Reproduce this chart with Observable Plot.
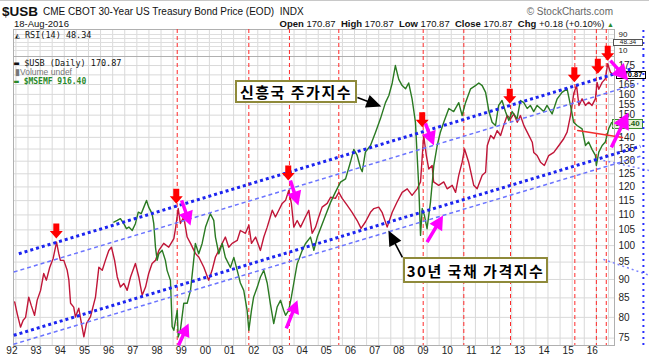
<!DOCTYPE html>
<html><head><meta charset="utf-8">
<script src="https://cdn.jsdelivr.net/npm/d3@7"></script>
<script src="https://cdn.jsdelivr.net/npm/@observablehq/plot@0.6"></script>
<style>
body{margin:0;background:#fff;}
#wrap{position:relative;width:649px;height:364px;overflow:hidden;background:#fff;font-family:"Liberation Sans",Arial,sans-serif;color:#111;}
.abs{position:absolute;white-space:nowrap;line-height:1;}
.mono{font-family:"DejaVu Sans Mono",monospace;}
.plotbox{position:absolute;left:0;top:0;}
.note{position:absolute;background:#fff;border:2px solid #8f8a3a;font-family:"Noto Sans CJK KR",sans-serif;font-weight:700;font-size:15px;letter-spacing:1.5px;line-height:1;display:flex;align-items:center;justify-content:center;color:#000;box-sizing:border-box;}
.tag{position:absolute;font-size:8px;font-weight:bold;line-height:1;padding:0 1px;box-sizing:border-box;display:flex;align-items:center;justify-content:center;overflow:hidden;}
</style></head><body><div id="wrap"></div>
<script>
// ---------- data ----------
const usbYears = [1991.95,1992.05,1992.19,1992.30,1992.40,1992.53,1992.63,1992.77,1992.88,1993.02,
1993.15,1993.26,1993.40,1993.54,1993.68,1993.77,1993.84,1993.98,1994.12,1994.19,
1994.26,1994.39,1994.46,1994.60,1994.67,1994.81,1994.92,1995.08,1995.29,1995.43,
1995.57,1995.70,1995.84,1995.95,1996.08,1996.19,1996.32,1996.46,1996.60,1996.74,
1996.94,1997.08,1997.22,1997.36,1997.49,1997.63,1997.77,1997.91,1998.11,1998.32,
1998.53,1998.60,1998.71,1998.80,1998.94,1999.08,1999.22,1999.42,1999.56,1999.77,
1999.97,2000.11,2000.25,2000.39,2000.53,2000.66,2000.80,2000.94,2001.15,2001.28,
2001.49,2001.63,2001.74,2001.91,2002.11,2002.25,2002.39,2002.60,2002.73,2002.87,
2003.01,2003.15,2003.28,2003.39,2003.49,2003.63,2003.77,2003.97,2004.11,2004.25,
2004.39,2004.52,2004.66,2004.87,2005.01,2005.21,2005.35,2005.49,2005.70,2005.90,
2006.11,2006.27,2006.45,2006.66,2006.80,2007.00,2007.14,2007.35,2007.56,2007.76,
2007.97,2008.18,2008.38,2008.59,2008.73,2008.86,2008.97,2009.07,2009.21,2009.27,
2009.48,2009.69,2009.83,2010.04,2010.18,2010.31,2010.45,2010.55,2010.72,2010.93,
2011.07,2011.28,2011.42,2011.49,2011.63,2011.76,2011.90,2012.04,2012.17,2012.31,
2012.45,2012.59,2012.73,2012.86,2013.00,2013.14,2013.35,2013.41,2013.55,2013.69,
2013.85,2014.03,2014.24,2014.45,2014.65,2014.79,2014.93,2015.07,2015.18,2015.28,
2015.41,2015.55,2015.68,2015.82,2015.96,2016.03,2016.10,2016.24,2016.37,2016.47,
2016.58,2016.63];
const usbClose = [83.9,81.0,77.6,79.3,80.0,85.2,83.1,80.5,84.4,87.0,
91.7,89.8,93.5,96.1,101.1,97.6,95.5,95.5,92.6,89.8,
83.6,82.6,80.1,82.3,79.8,75.3,78.5,80.1,85.2,93.5,
92.6,95.5,98.5,99.5,95.5,90.7,87.9,88.9,87.0,90.7,
94.6,90.7,85.7,87.9,91.7,94.6,95.5,98.5,100.7,99.5,
102.2,105.5,112.2,107.1,109.3,102.7,100.7,97.6,96.5,93.5,
89.8,92.6,96.5,98.5,100.7,102.7,99.5,100.7,101.6,104.8,
103.9,106.5,100.7,102.7,98.5,102.7,105.9,111.6,109.3,111.6,
114.0,115.1,118.7,114.0,105.9,108.1,105.9,109.3,111.6,103.9,
105.9,109.3,112.7,114.0,116.2,115.8,118.0,115.8,113.3,110.9,
108.1,105.5,107.6,110.9,112.2,112.7,110.9,105.9,110.9,114.5,
118.0,119.3,116.9,119.3,121.9,140.8,132.3,126.9,128.3,121.9,
120.6,121.9,119.3,120.6,118.0,124.4,129.6,135.0,129.6,120.6,
119.3,124.4,125.6,136.5,140.8,139.4,143.0,140.8,145.3,149.8,
148.3,150.6,146.7,149.8,145.3,142.3,137.9,133.6,132.3,129.6,
128.3,132.3,133.6,136.5,139.4,142.3,149.8,160.6,164.5,154.6,
157.8,154.6,156.2,154.6,157.8,166.1,162.6,166.1,167.9,176.0,
171.4,170.87];

const emfYears = [1996.05,1996.19,1996.32,1996.46,1996.57,1996.67,1996.81,1996.94,1997.06,1997.18,
1997.29,1997.40,1997.49,1997.63,1997.70,1997.77,1997.84,1997.91,1998.05,1998.18,
1998.25,1998.39,1998.46,1998.53,1998.67,1998.71,1998.80,1998.94,1999.08,1999.22,
1999.35,1999.42,1999.56,1999.70,1999.84,2000.04,2000.18,2000.25,2000.39,2000.53,
2000.66,2000.87,2001.01,2001.15,2001.28,2001.42,2001.56,2001.63,2001.74,2001.83,
2001.98,2002.11,2002.25,2002.39,2002.52,2002.66,2002.80,2002.94,2003.07,2003.15,
2003.28,2003.39,2003.49,2003.63,2003.84,2003.97,2004.18,2004.32,2004.46,2004.59,
2004.80,2005.01,2005.21,2005.42,2005.63,2005.83,2005.97,2006.11,2006.25,2006.32,
2006.45,2006.66,2006.87,2007.07,2007.28,2007.42,2007.56,2007.69,2007.83,2007.97,
2008.11,2008.24,2008.38,2008.52,2008.59,2008.66,2008.73,2008.80,2008.89,2009.00,
2009.14,2009.28,2009.42,2009.55,2009.69,2009.90,2010.10,2010.31,2010.45,2010.59,
2010.80,2011.00,2011.14,2011.28,2011.42,2011.56,2011.69,2011.83,2011.96,2012.10,
2012.24,2012.38,2012.52,2012.72,2012.86,2013.00,2013.14,2013.27,2013.41,2013.55,
2013.69,2013.82,2013.96,2014.17,2014.38,2014.58,2014.79,2014.93,2015.06,2015.20,
2015.41,2015.55,2015.68,2015.82,2015.96,2016.00,2016.10,2016.24,2016.37,2016.51,
2016.63];
const emfClose = [493.5,498.7,504,488.6,473.6,478.4,468.6,488.6,525.1,519.9,
541.6,564.6,541.6,519.9,488.6,422.4,388.9,405.3,413.9,388.9,
365.5,343.5,257.5,251.8,285.1,241.5,251.8,297.8,297.8,322.8,
388.9,432.2,405.3,432.2,478.4,519.9,498.7,449.5,405.3,432.2,
396.2,372.0,396.2,365.5,337.9,322.8,285.1,251.8,285.1,309.8,
329.4,350.7,365.5,337.9,297.2,262.5,291.0,303.4,285.1,276.4,
285.1,309.8,337.9,381.1,413.9,431.3,449.5,413.9,449.5,473.6,
514.4,557.8,594.4,632.6,645.5,715.6,775.6,746.7,689.6,675.1,
762.4,794.6,862.9,937.6,1037,1084,1172,1306,1198,1153,
1130,1172,1062,918,746.7,608.4,454.3,536.8,514.4,473.6,
557.8,701.7,794.6,862.9,918,1000,981.2,1037,957.4,1037,
1130,1153,1172,1153,1105,981.2,918,899.7,1019,1051,
981.2,928.1,981.2,937.6,1051,1037,1000,1019,981.2,1019,
1000,981.2,1019,966.7,1062,1105,1130,1019,918,899.7,
881.3,794.6,812,775.6,746.7,701.7,762.4,794.6,812,881.3,
916.40];

// overlay: $MSEMF is drawn on its own (half-slope) log axis, anchored so its last value sits at the 916.40 tag
const emfAnchorValue = 916.40, emfAnchorPrice = 146.6;

// tick labels (170 and 145 are hidden under the value tags in the reference)
const yearTicks = [1992,1993,1994,1995,1996,1997,1998,1999,2000,2001,2002,2003,2004,2005,2006,2007,2008,2009,2010,2011,2012,2013,2014,2015,2016];
const yearLabels = ["92","93","94","95","96","97","98","99","00","01","02","03","04","05","06","07","08","09","10","11","12","13","14","15","16"];
const priceTicks = [75,80,85,90,95,100,105,110,115,120,125,130,135,140,150,155,160,165,175];
const rsiTicks = [10,90];

// annotations (year, price)
const cycleDates = [1998.67,2001.63,2003.31,2005.35,2008.84,2010.52,2012.45,2015.11,2016.00,2016.41];
const topArrowYears = [1993.67,1998.63,2003.26,2008.80,2012.42,2015.09,2016.06,2016.47];
const topArrowPrices = [102.2,113.9,122.4,144.5,155.4,166.2,170.6,177.7];
const channelHeavyTop = {years:[1992.12,2017.49], prices:[97.5,173.4]};
const channelThinTop = {years:[1991.91,2017.74], prices:[92.1,165.5]};
const channelHeavyBottom = {years:[1991.91,2017.82], prices:[75.66,136.2]};
const channelThinBottom = {years:[1991.90,2017.82], prices:[73.58,132.0]};
const dottedA = {years:[2016.29,2018.19], prices:[130.3,126.3]};
const dottedB = {years:[2016.29,2018.19], prices:[95.81,91.16]};
const redSegment = {years:[2015.23,2017.08], prices:[143.0,139.9]};
const blueVerticalYear = 2017.945;
// magenta arrows: tail -> tip
const magentaTailYears = [1998.85,2003.35,2008.93,2016.58,1998.72,2003.18,2009.00,2016.62];
const magentaTailPrices = [115.07,122.44,146.2,177.7,73.3,77.3,101.1,135.7];
const magentaTipYears = [1999.22,2003.68,2009.28,2017.32,1999.14,2003.64,2009.66,2017.32];
const magentaTipPrices = [106.47,113.29,136.5,167.0,78.5,84.35,109.83,151.2];
const magentaHead = [14,14,14,16,13,13,14,16];
// black label arrows: tail -> tip
const blackTailYears = [2006.12,2007.98];
const blackTailPrices = [158.4,96.4];
const blackTipYears = [2007.11,2007.40];
const blackTipPrices = [154.1,104.8];

// ---------- build ----------
const X_DOMAIN = [1991.9, 2016.75];
const Y_DOMAIN = [73.3, 180];
const W = 649, H = 364, ML = 13, MR = 35, MT = 56, MB = 19;

const usb = usbYears.map((y,i)=>({year:y, value:usbClose[i]}));
const emf = emfYears.map((y,i)=>({year:y, value:emfAnchorPrice*Math.sqrt(emfClose[i]/emfAnchorValue)}));
const seg = o => o.years.map((y,i)=>({year:y, value:o.prices[i]}));
const halfYears = d3.range(1992, 2016.75, 0.5);
const priceGrid = d3.range(75, 181, 5);
const yearLabelData = yearTicks.map((t,i)=>({year:t, label:yearLabels[i]}));

const sx = Plot.scale({x:{domain:X_DOMAIN, range:[ML, W-MR]}});
const sy = Plot.scale({y:{type:"log", domain:Y_DOMAIN, range:[H-MB, MT]}});

function blockArrow(dx, dy, headLen, headW, shaftW){
  // tip at origin, (dx,dy) = vector from tip to tail in pixels
  const len = Math.hypot(dx,dy), ux = dx/len, uy = dy/len, px = -uy, py = ux;
  const P = (a,b)=>[ux*a + px*b, uy*a + py*b];
  const pts = [[0,0], P(headLen, headW/2), P(headLen, shaftW/2), P(len, shaftW/2), P(len, -shaftW/2), P(headLen, -shaftW/2), P(headLen, -headW/2)];
  return {draw(ctx){ ctx.moveTo(pts[0][0],pts[0][1]); for (let k=1;k<pts.length;k++) ctx.lineTo(pts[k][0],pts[k][1]); ctx.closePath(); }};
}
function arrowMarks(tx, tp, hx, hp, color, heads, widthFactor, shaft){
  return tx.map((_,i)=>{
    const dx = sx.apply(tx[i]) - sx.apply(hx[i]);
    const dy = sy.apply(tp[i]) - sy.apply(hp[i]);
    const sym = blockArrow(dx, dy, heads[i], heads[i]*widthFactor, shaft);
    return Plot.dot([{year:hx[i], value:hp[i]}], {x:"year", y:"value", symbol:sym, fill:color, stroke:"none", r:5});
  });
}
const downSym = blockArrow(0, -15, 7.5, 13, 6);
const topArrows = topArrowYears.map((y,i)=>({year:y, value:topArrowPrices[i]}));

const dashRed = {stroke:"#ff2a2a", strokeWidth:1, strokeDasharray:"4,3"};
const heavy = {stroke:"#1c24f0", strokeWidth:3, strokeDasharray:"3,3", strokeLinecap:"butt"};
const thin = {stroke:"#6b74ff", strokeWidth:1.5, strokeDasharray:"4,3", strokeLinecap:"butt"};
const dotted = {stroke:"#7c84ff", strokeWidth:1.5, strokeDasharray:"2,3", strokeLinecap:"butt"};

const main = Plot.plot({
  width:W, height:H, marginTop:MT, marginBottom:MB, marginLeft:ML, marginRight:MR,
  style:{background:"transparent", fontSize:"10px", fontFamily:"Liberation Sans, Arial, sans-serif", color:"#222", overflow:"visible"},
  x:{domain:X_DOMAIN, axis:null},
  y:{type:"log", domain:Y_DOMAIN, ticks:priceTicks, tickFormat:d=>String(d), axis:"right", tickSize:0, tickPadding:4, label:null},
  marks:[
    Plot.ruleX(halfYears, {stroke:"#d9d9d9", strokeWidth:1}),
    Plot.ruleY(priceGrid, {stroke:"#d9d9d9", strokeWidth:1}),
    Plot.frame({stroke:"#b0b0b0"}),
    Plot.text(yearLabelData, {x:"year", text:"label", frameAnchor:"bottom", dy:8, dx:-4, fontSize:10, fill:"#222"}),
    Plot.ruleX(cycleDates, dashRed),
    Plot.line(usb, {x:"year", y:"value", stroke:"#c01638", strokeWidth:1.4}),
    Plot.line(emf, {x:"year", y:"value", stroke:"#2a7a22", strokeWidth:1.4}),
    Plot.line(seg(channelThinTop), {x:"year", y:"value", ...thin}),
    Plot.line(seg(channelThinBottom), {x:"year", y:"value", ...thin}),
    Plot.line(seg(channelHeavyTop), {x:"year", y:"value", ...heavy}),
    Plot.line(seg(channelHeavyBottom), {x:"year", y:"value", ...heavy}),
    Plot.line(seg(dottedA), {x:"year", y:"value", ...dotted}),
    Plot.line(seg(dottedB), {x:"year", y:"value", ...dotted}),
    Plot.ruleX([blueVerticalYear], {y1:Y_DOMAIN[0], y2:Y_DOMAIN[1], stroke:"#2a30ff", strokeWidth:2, strokeDasharray:"2,4"}),
    Plot.line(seg(redSegment), {x:"year", y:"value", stroke:"#f03030", strokeWidth:1.5}),
    Plot.dot(topArrows, {x:"year", y:"value", symbol:downSym, fill:"#ff0000", stroke:"none", r:5}),
    ...arrowMarks(magentaTailYears, magentaTailPrices, magentaTipYears, magentaTipPrices, "#ff00ff", magentaHead, 1.05, 3.5),
    ...arrowMarks(blackTailYears, blackTailPrices, blackTipYears, blackTipPrices, "#000", [15,15], 0.9, 1.6)
  ]
});
main.classList.add("plotbox");
main.style.zIndex = 2;

const rsi = Plot.plot({
  width:W, height:57, marginTop:29, marginBottom:1, marginLeft:ML, marginRight:MR,
  style:{background:"transparent", fontSize:"8px", fontFamily:"Liberation Sans, Arial, sans-serif", color:"#222"},
  x:{domain:X_DOMAIN, axis:null},
  y:{domain:[-20,115], ticks:rsiTicks, axis:"right", tickSize:0, tickPadding:4, label:null},
  marks:[
    Plot.ruleX(halfYears, {stroke:"#d9d9d9"}),
    Plot.ruleY([10,30,50,70,90], {stroke:"#dedede"}),
    Plot.frame({stroke:"#b0b0b0"}),
    Plot.ruleX(cycleDates, dashRed),
    Plot.ruleX([blueVerticalYear], {y1:-20, y2:115, stroke:"#2a30ff", strokeWidth:2, strokeDasharray:"2,4"})
  ]
});
rsi.classList.add("plotbox");
rsi.style.zIndex = 1;

const wrap = document.getElementById("wrap");
wrap.appendChild(rsi);
wrap.appendChild(main);

const html = `
<div class="abs" style="left:0;top:0;width:649px;height:1px;background:#c8c8c8"></div>
<div class="abs" style="left:2px;top:5px;font-size:13.5px;font-weight:bold;z-index:3">$USB</div>
<div class="abs" style="left:43px;top:7px;font-size:10px;font-family:'Liberation Sans Narrow','Arial Narrow',sans-serif;z-index:3">CME CBOT 30-Year US Treasury Bond Price (EOD)&nbsp; INDX</div>
<div class="abs" style="right:36px;top:7px;font-size:10px;color:#666;z-index:3">© StockCharts.com</div>
<div class="abs" style="left:14px;top:19px;font-size:9.5px;z-index:3">18-Aug-2016</div>
<div class="abs" style="right:35px;top:19px;font-size:9.5px;z-index:3"><b>Open</b> 170.87 &nbsp;<b>High</b> 170.87 &nbsp;<b>Low</b> 170.87 &nbsp;<b>Close</b> 170.87 &nbsp;<b>Chg</b> +0.18 (+0.10%) <span style="color:#2a8a2a;font-size:7px">▲</span></div>
<div class="abs mono" style="left:15px;top:31px;font-size:8.5px;z-index:3"><span style="font-size:8px">◭</span> RSI(14) 48.34</div>
<div class="abs mono" style="left:14px;top:59px;font-size:8.5px;z-index:3">▬ $USB (Daily) 170.87</div>
<div class="abs" style="left:15px;top:68px;font-size:8.5px;color:#777;z-index:3">▮Volume undef</div>
<div class="abs mono" style="left:14px;top:78px;font-size:8px;color:#2a8a2a;font-weight:bold;z-index:3">▬ $MSEMF 916.40</div>
<div class="note" style="left:235px;top:80px;width:122px;height:23px;z-index:3">신흥국 주가지수</div>
<div class="note" style="left:403px;top:257px;width:145px;height:26px;z-index:3">30년 국채 가격지수</div>
<div class="tag" style="left:613px;top:38.5px;width:30px;height:7px;border:1px solid #555;background:#fff;color:#222;font-weight:normal;font-size:6.5px;z-index:3">48.34</div>
<div class="tag" style="left:616px;top:70.5px;width:30px;height:8.5px;border:1px solid #000;background:#fff;color:#000;font-size:7.5px;z-index:1">170.87</div>
<div class="tag" style="left:612px;top:119px;width:31px;height:10px;border:1px solid #3b8f2e;background:#e6f3da;color:#1d5e14;z-index:1">916.40</div>
`;
wrap.insertAdjacentHTML("beforeend", html);
</script></body></html>
